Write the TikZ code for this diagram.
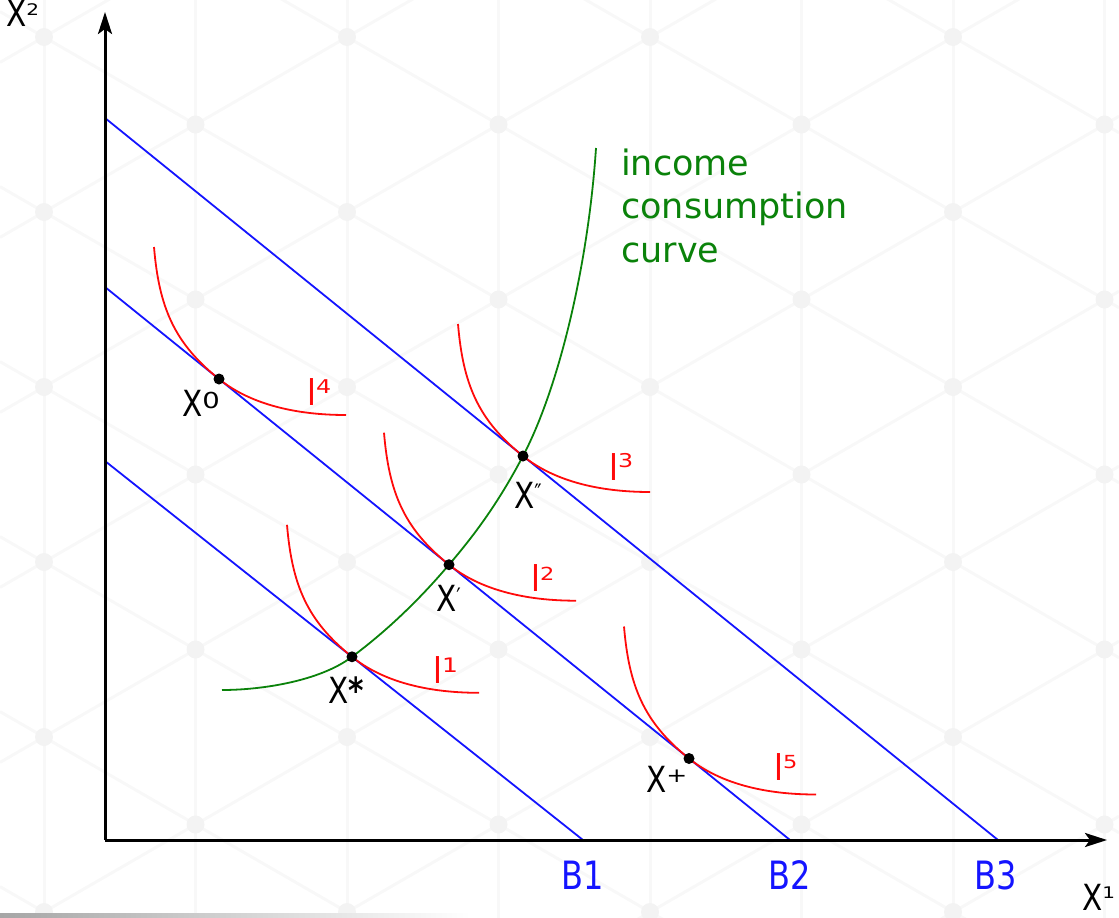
\documentclass[tikz,border=0pt]{standalone}
\usepackage{fontspec}
\setmainfont{DejaVu Sans}[FakeStretch=0.82]
\newfontfamily\gfont{DejaVu Sans}
\newfontfamily\supfont{DejaVu Sans}[FakeStretch=1.25]
\usetikzlibrary{arrows.meta}
\definecolor{bl}{RGB}{20,20,255}
\definecolor{gr}{RGB}{10,130,10}
\definecolor{rd}{RGB}{255,10,10}
\definecolor{patl}{RGB}{248,248,248}
\definecolor{patd}{RGB}{243,243,243}
\newcommand{\supr}[3]{\raisebox{#1pt}{\supfont\fontsize{#2}{#2}\selectfont #3}}
\newcommand{\prm}[3]{\raisebox{#1pt}{\fontsize{#2}{#2}\selectfont #3}}
\tikzset{
  axis/.style={line width=3pt, -{Stealth[length=22pt,width=14pt,inset=5pt]}},
  budget/.style={draw=bl, line width=1.8pt},
  icc/.style={draw=gr, line width=1.8pt},
  ic/.style={draw=rd, line width=1.8pt},
  lab/.style={anchor=base west, inner sep=0pt, font=\fontsize{36}{40}\selectfont},
  ilab/.style={lab, text=rd, font=\fontsize{37}{40}\selectfont},
  blab/.style={lab, text=bl, font=\fontsize{39}{40}\selectfont},
  glab/.style={anchor=base west, inner sep=0pt, text=gr, font=\gfont\fontsize{35}{40}\selectfont},
  indiff/.pic={\draw[ic] (-65,-132) .. controls (-60,-72) and (-45,-36) .. (0,0) .. controls (26,21) and (67,36) .. (127,36);}
}
\begin{document}
\begin{tikzpicture}[x=1pt,y=-1pt]
\useasboundingbox (0,0) rectangle (1119,918);
% faint background pattern
\begin{scope}
\clip (0,0) rectangle (1119,918);
\foreach \k in {-1,...,8} {\draw[patl, line width=3pt] (44+151.5*\k,0) -- (44+151.5*\k,918);}
\foreach \m in {-3,...,5} {\draw[patl, line width=3pt] (0,11.6+175*\m) -- (1119,657.7+175*\m);}
\foreach \m in {0,...,8} {\draw[patl, line width=3pt] (0,62.4+175*\m) -- (1119,-583.7+175*\m);}
\foreach \k in {-1,...,8} {
  \foreach \j in {0,...,10} {
    \pgfmathtruncatemacro\p{mod(\k+\j+20,2)}
    \ifnum\p=0 \fill[patd] (44+151.5*\k,37+87.5*\j) circle (9pt); \fi
  }
}
\end{scope}
\shade[left color=black!35, right color=white] (0,913) rectangle (470,918);

% coordinates
\coordinate (O) at (105,840);
\coordinate (Ytop) at (105,12);
\coordinate (Xend) at (1107,840);
\coordinate (B1a) at (105,461);
\coordinate (B1b) at (583,840);
\coordinate (B2a) at (105,287);
\coordinate (B2b) at (790,840);
\coordinate (B3a) at (105,118);
\coordinate (B3b) at (998,840);
\coordinate (X0) at (219,379);
\coordinate (Xp) at (449,564.7);
\coordinate (Xplus) at (689,758.5);
\coordinate (Xpp) at (523,456);
\coordinate (Xs) at (352,656.8);
\coordinate (G0) at (222,690);
\coordinate (G1) at (596,148);

% budget lines
\draw[budget] (B1a) -- (B1b);
\draw[budget] (B2a) -- (B2b);
\draw[budget] (B3a) -- (B3b);

% income consumption curve
\draw[icc] (G0) .. controls (262,690) and (320,681) .. (Xs)
  .. controls (384,633) and (417,602.5) .. (Xp)
  .. controls (474,535.5) and (498,503.5) .. (Xpp)
  .. controls (558,389.5) and (588,268) .. (G1);

% indifference curves
\pic at (X0) {indiff};
\pic at (Xpp) {indiff};
\pic at (Xp) {indiff};
\pic at (Xs) {indiff};
\pic at (Xplus) {indiff};

% tangency points
\foreach \c in {X0,Xp,Xplus,Xpp,Xs} {\fill (\c) circle (5.5pt);}

% axes
\draw[axis] (O) -- (Ytop);
\draw[axis] (O) -- (Xend);

% labels
\node[lab] (lX2) at (6,27) {X\supr{12}{16}{2}};
\node[lab] (lX1) at (1082,910) {X\supr{12}{16}{1}};
\node[lab] (lX0) at (182,416) {X\supr{8}{22}{0}};
\node[lab] (lXpp) at (514,508) {X\prm{7}{24}{″}};
\node[lab] (lXp) at (436,611) {X\prm{6}{24}{′}};
\node[lab] (lXs) at (328,703) {X{\bfseries *}};
\node[lab] (lXplus) at (646,792) {X\supr{10}{20}{+}};
\node[ilab] (lI4) at (307,405) {I\supr{12}{19}{4}};
\node[ilab] (lI3) at (609,480) {I\supr{13}{19}{3}};
\node[ilab] (lI2) at (531,591) {I\supr{11}{18}{2}};
\node[ilab] (lI1) at (433,683) {I\supr{11}{20}{1}};
\node[ilab] (lI5) at (774,780) {I\supr{12}{18}{5}};
\node[blab] (lB1) at (561,889) {B1};
\node[blab] (lB2) at (768,889) {B2};
\node[blab] (lB3) at (974,889) {B3};
\node[glab] (g1) at (621,175) {income};
\node[glab] (g2) at (621,218) {consumption};
\node[glab] (g3) at (621,262) {curve};
\end{tikzpicture}
\end{document}
